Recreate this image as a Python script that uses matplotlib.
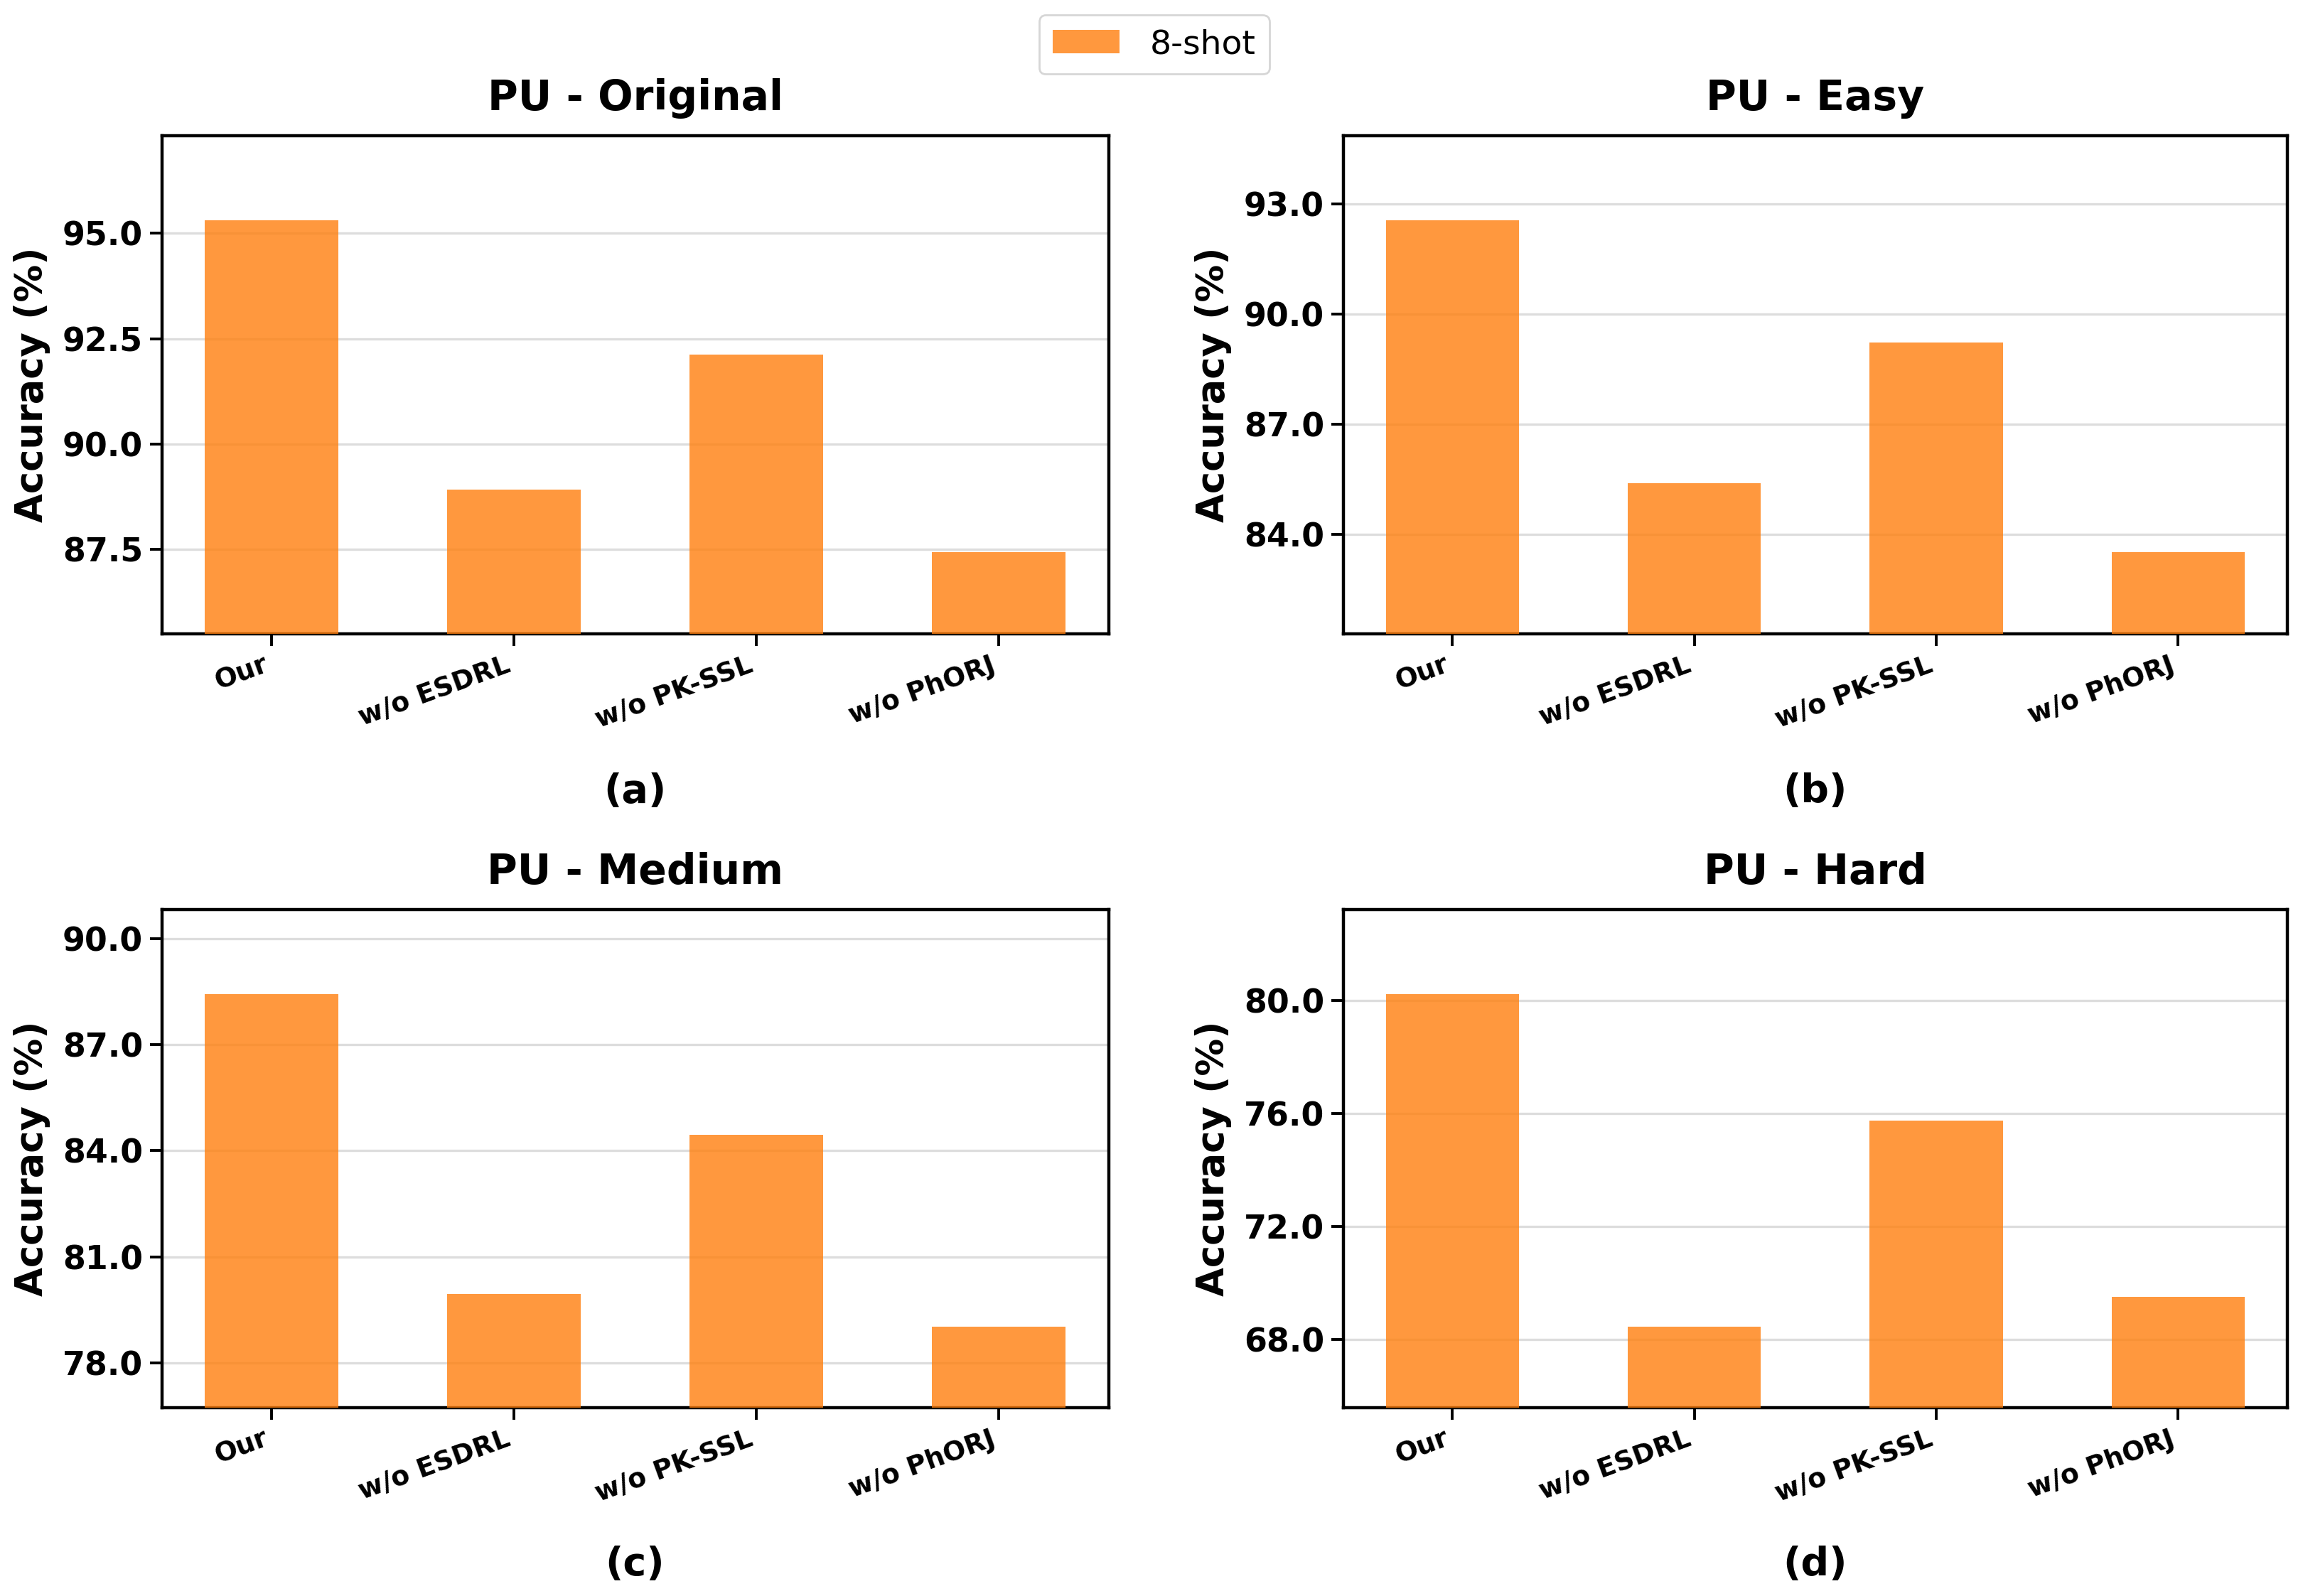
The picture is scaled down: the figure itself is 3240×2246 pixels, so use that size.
import numpy as np
import matplotlib
matplotlib.use("Agg")
import matplotlib.pyplot as plt
from matplotlib.patches import Patch

# ablation data (8-shot accuracy, %)
methods = ["Our", "w/o ESDRL", "w/o PK-SSL", "w/o PhORJ"]
titles = ["PU - Original", "PU - Easy", "PU - Medium", "PU - Hard"]
panel_labels = ["(a)", "(b)", "(c)", "(d)"]

acc_original = [95.31, 88.92, 92.12, 87.43]
acc_easy = [92.56, 85.41, 89.24, 83.52]
acc_medium = [88.42, 79.96, 84.46, 79.04]
acc_hard = [80.21, 68.47, 75.74, 69.51]

ticks_original = [87.5, 90.0, 92.5, 95.0]
ticks_easy = [84.0, 87.0, 90.0, 93.0]
ticks_medium = [78.0, 81.0, 84.0, 87.0, 90.0]
ticks_hard = [68.0, 72.0, 76.0, 80.0]

all_acc = [acc_original, acc_easy, acc_medium, acc_hard]
all_ticks = [ticks_original, ticks_easy, ticks_medium, ticks_hard]

bar_color = "#ff7f0e"

fig = plt.figure(figsize=(16.205, 11.23), dpi=200)

# axes boxes: [left, bottom, width, height]
boxes = [
    [0.0702, 0.603, 0.411, 0.312],
    [0.583, 0.603, 0.410, 0.312],
    [0.0702, 0.118, 0.411, 0.312],
    [0.583, 0.118, 0.410, 0.312],
]
label_y = [0.504, 0.504, 0.0194, 0.0194]

x = np.arange(len(methods))
for i in range(4):
    ax = fig.add_axes(boxes[i])
    vals = all_acc[i]
    ax.bar(x, vals, width=0.55, color=bar_color, alpha=0.8, zorder=3)
    r = max(vals) - min(vals)
    ax.set_ylim(min(vals) - 0.245 * r, max(vals) + 0.255 * r)
    ax.set_yticks(all_ticks[i])
    ax.set_yticklabels([f"{t:.1f}" for t in all_ticks[i]], fontsize=16.5, fontweight="bold")
    ax.set_xticks(x)
    ax.set_xticklabels(methods, rotation=20, ha="right", fontsize=13.5, fontweight="bold")
    ax.set_ylabel("Accuracy (%)", fontsize=19, fontweight="bold", labelpad=6)
    ax.set_title(titles[i], fontsize=21, fontweight="bold", pad=13)
    ax.grid(axis="y", color="#dddddd", linewidth=1.2, zorder=0)
    ax.set_axisbelow(True)
    for sp in ax.spines.values():
        sp.set_linewidth(1.6)
    ax.tick_params(axis="both", width=1.4, length=6)
    cx = boxes[i][0] + boxes[i][2] / 2
    fig.text(cx, label_y[i], panel_labels[i], ha="center", va="center",
             fontsize=20, fontweight="bold")

handles = [Patch(facecolor=bar_color, alpha=0.8, label="8-shot")]
fig.legend(handles=handles, loc="upper center", bbox_to_anchor=(0.501, 1.001),
           fontsize=17, frameon=True, edgecolor="#cccccc", handlelength=2.0,
           handletextpad=0.9)

fig.savefig("out.png", dpi=200)
